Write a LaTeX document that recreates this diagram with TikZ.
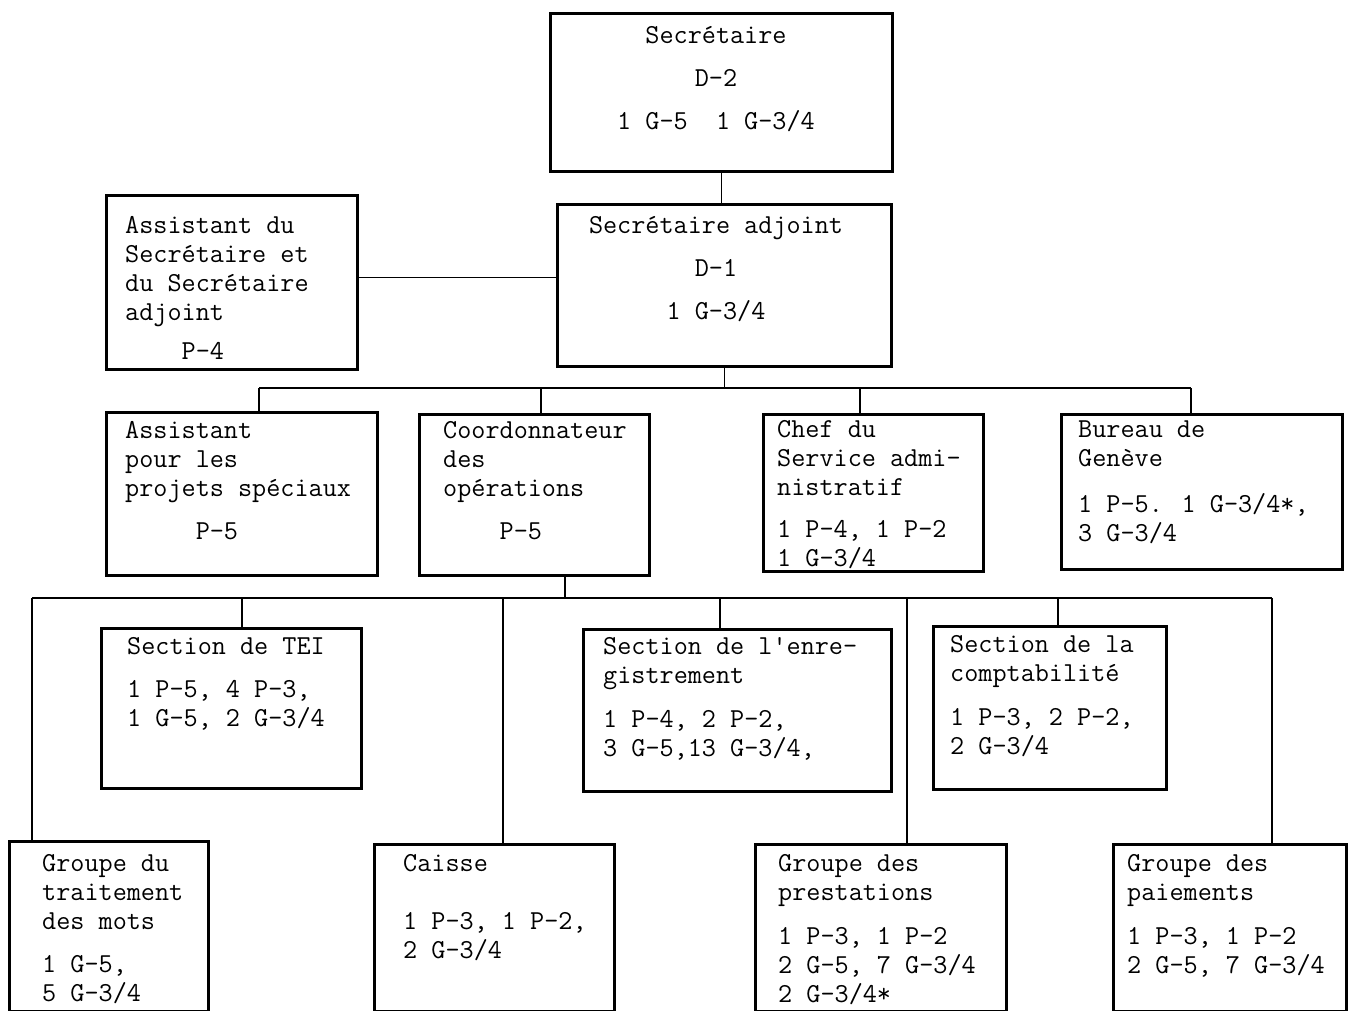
\documentclass[tikz,border=0pt]{standalone}
\usepackage{tikz}
\begin{document}
\begin{tikzpicture}[x=1pt,y=-1pt,
  box/.style={draw, line width=2.8pt, inner sep=0pt, anchor=north west},
  conn/.style={draw, line width=1.5pt},
  txt/.style={font=\fontsize{27.4}{29}\selectfont\ttfamily, inner sep=0pt, align=left, anchor=north west},
  ctxt/.style={font=\fontsize{27.4}{29}\selectfont\ttfamily, inner sep=0pt, align=center, anchor=north}]
\useasboundingbox (0,0) rectangle (1350,1011);
\clip (0,0) rectangle (1350,1011);
\newcommand\fs{\rule{0pt}{20pt}}
% boxes
\node[box, minimum width=342pt, minimum height=158pt] (sec) at (549,12) {};
\node[box, minimum width=334pt, minimum height=162pt] (adj) at (556,203) {};
\node[box, minimum width=251pt, minimum height=174pt] (asst) at (105,194) {};
\node[box, minimum width=271pt, minimum height=163pt] (proj) at (105,411) {};
\node[box, minimum width=230pt, minimum height=161pt] (coord) at (418,413) {};
\node[box, minimum width=220pt, minimum height=157pt] (chef) at (762,413) {};
\node[box, minimum width=281pt, minimum height=155pt] (gen) at (1060,413) {};
\node[box, minimum width=260pt, minimum height=160pt] (tei) at (100,627) {};
\node[box, minimum width=308pt, minimum height=162pt] (enr) at (582,628) {};
\node[box, minimum width=233pt, minimum height=163pt] (cpt) at (932,625) {};
\node[box, minimum width=199pt, minimum height=170pt] (mots) at (8,840) {};
\node[box, minimum width=240pt, minimum height=167pt] (caisse) at (373,843) {};
\node[box, minimum width=251pt, minimum height=167pt] (prest) at (754,843) {};
\node[box, minimum width=233pt, minimum height=167pt] (paie) at (1112,843) {};
% texts
\node[ctxt] (tsec) at (716,23) {\fs Secrétaire\\[14pt]D-2\\[14pt]1 G-5\ \ 1 G-3/4};
\node[ctxt] (tadj) at (716,213) {\fs Secrétaire adjoint\\[14pt]D-1\\[14pt]1 G-3/4};
\node[txt] (tasst) at (125,213) {\fs Assistant du\\Secrétaire et\\du Secrétaire\\adjoint\\[10pt]\phantom{xxxx}P-4};
\node[txt] (tproj) at (125,418) {\fs Assistant\\pour les\\projets spéciaux\\[14pt]\phantom{xxxxx}P-5};
\node[txt] (tcoord) at (443,418) {\fs Coordonnateur\\des\\opérations\\[14pt]\phantom{xxxx}P-5};
\node[txt] (tchef) at (777,417) {\fs Chef du\\Service admi-\\nistratif\\[13pt]1 P-4, 1 P-2\\1 G-3/4};
\node[txt] (tgen) at (1078,417) {\fs Bureau de\\Genève\\[17pt]1 P-5. 1 G-3/4*,\\3 G-3/4};
\node[txt] (ttei) at (127,634) {\fs Section de TEI\\[14pt]1 P-5, 4 P-3,\\1 G-5, 2 G-3/4};
\node[txt] (tenr) at (603,634) {\fs Section de l\textquotesingle enre-\\gistrement\\[15pt]1 P-4, 2 P-2,\\3 G-5,13 G-3/4,};
\node[txt] (tcpt) at (950,632) {\fs Section de la\\comptabilité\\[15pt]1 P-3, 2 P-2,\\2 G-3/4};
\node[txt] (tmots) at (42,851) {\fs Groupe du\\traitement\\des mots\\[14pt]1 G-5,\\5 G-3/4};
\node[txt] (tcaisse) at (403,851) {\fs Caisse\\[29pt]1 P-3, 1 P-2,\\2 G-3/4};
\node[txt] (tprest) at (778,851) {\fs Groupe des\\prestations\\[15pt]1 P-3, 1 P-2\\2 G-5, 7 G-3/4\\2 G-3/4*};
\node[txt] (tpaie) at (1127,851) {\fs Groupe des\\paiements\\[15pt]1 P-3, 1 P-2\\2 G-5, 7 G-3/4};
% connectors
\draw[conn] (sec.south) -- (sec.south |- adj.north);
\draw[conn] ([yshift=5pt]asst.east) -- ([yshift=5pt]asst.east -| adj.west);
\coordinate (a1) at (259,388);
\coordinate (a2) at (541,388);
\coordinate (a3) at (860,388);
\coordinate (a4) at (1191,388);
\draw[conn] (adj.south) -- (adj.south |- a1);
\draw[conn] (a1) -- (a4);
\draw[conn] (a1) -- (a1 |- proj.north);
\draw[conn] (a2) -- (a2 |- coord.north);
\draw[conn] (a3) -- (a3 |- chef.north);
\draw[conn] (a4) -- (a4 |- gen.north);
\coordinate (c0) at (565,598);
\coordinate (b1) at (32,598);
\coordinate (b2) at (242,598);
\coordinate (b3) at (503,598);
\coordinate (b4) at (720,598);
\coordinate (b5) at (907,598);
\coordinate (b6) at (1058,598);
\coordinate (b7) at (1272,598);
\draw[conn] (c0 |- coord.south) -- (c0);
\draw[conn] (b1) -- (b7);
\draw[conn] (b1) -- (b1 |- mots.north);
\draw[conn] (b2) -- (b2 |- tei.north);
\draw[conn] (b3) -- (b3 |- caisse.north);
\draw[conn] (b4) -- (b4 |- enr.north);
\draw[conn] (b5) -- (b5 |- prest.north);
\draw[conn] (b6) -- (b6 |- cpt.north);
\draw[conn] (b7) -- (b7 |- paie.north);
\end{tikzpicture}
\end{document}
